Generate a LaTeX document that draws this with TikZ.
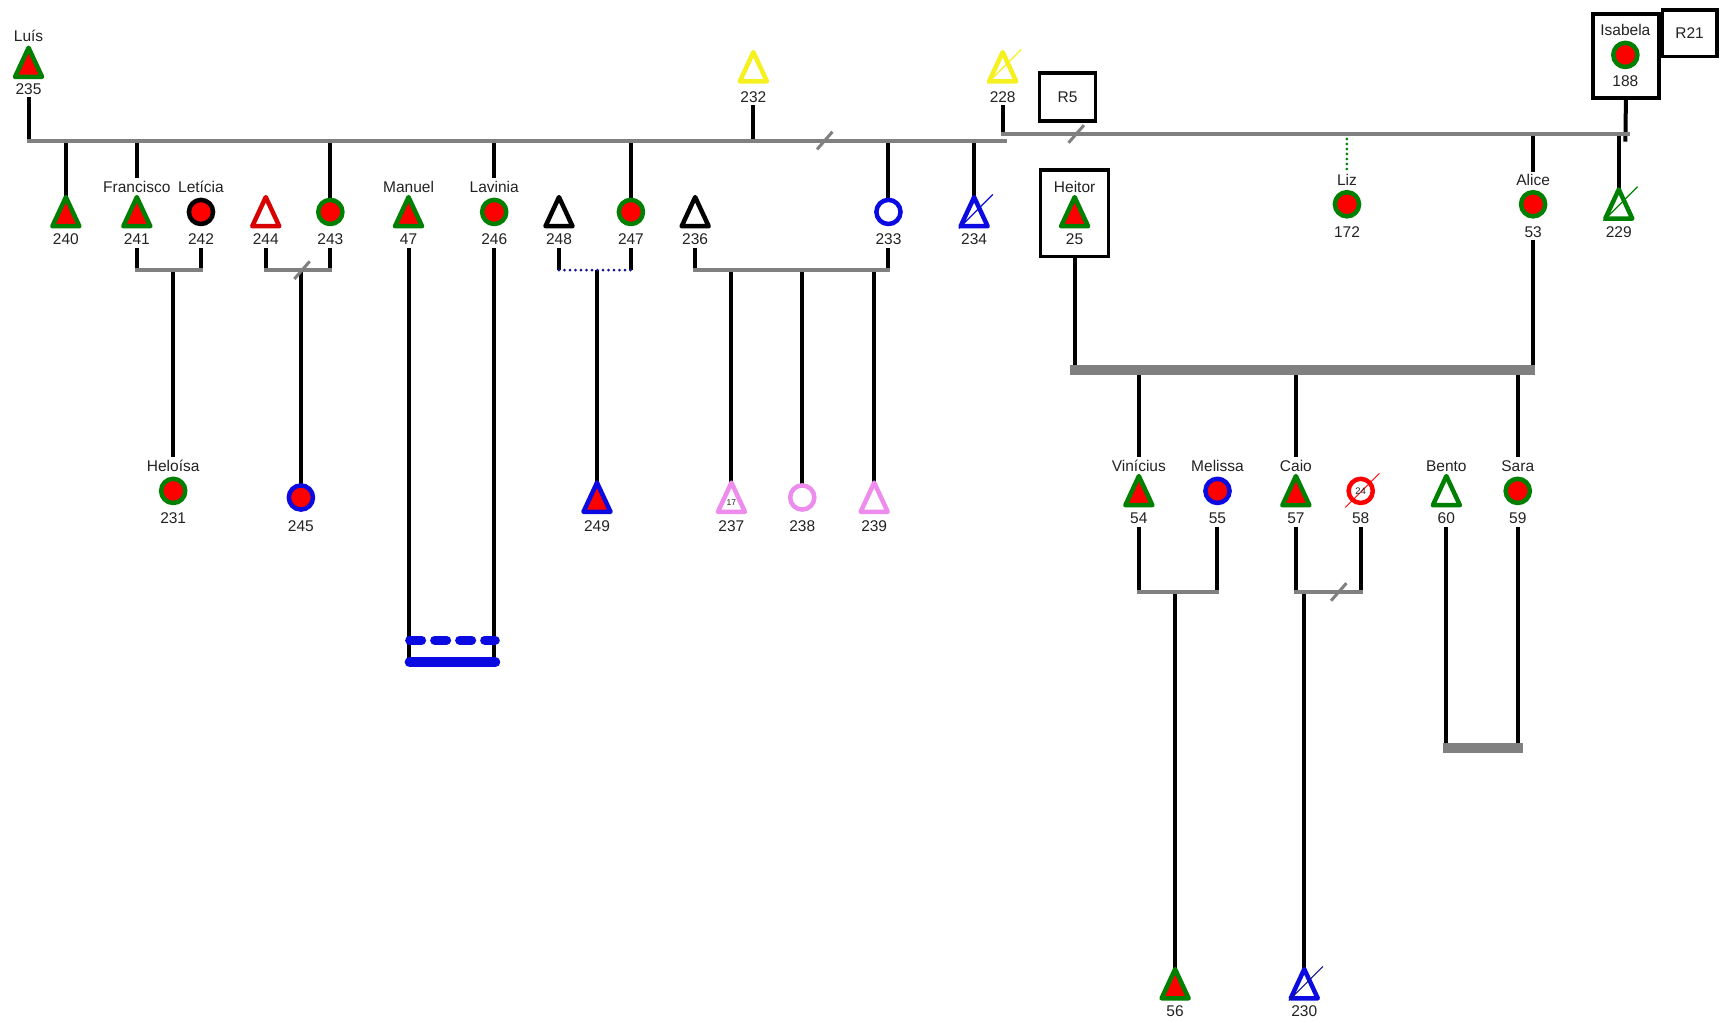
\documentclass[tikz,border=0pt]{standalone}
\usepackage{fontspec}
\setmainfont{Liberation Sans}
\usetikzlibrary{calc}
\definecolor{gcol}{RGB}{0,128,0}
\definecolor{rcol}{RGB}{255,0,0}
\definecolor{bcol}{RGB}{10,10,225}
\definecolor{ycol}{RGB}{245,240,30}
\definecolor{pcol}{RGB}{238,140,238}
\definecolor{lgray}{RGB}{128,128,128}
\definecolor{navy}{RGB}{20,20,140}
\definecolor{txt}{RGB}{35,35,35}
\begin{document}
\begin{tikzpicture}[x=1.0982pt, y=-1.0982pt,
  bk/.style={line width=4pt, draw=black},
  gl/.style={line width=4pt, draw=lgray, line cap=rect},
  thk/.style={line width=10pt, draw=lgray},
  lab/.style={font=\fontsize{15.5}{17}\selectfont, text=txt, inner sep=0pt, outer sep=3pt, text height=11pt, text depth=0pt},
  bx/.style={draw=black, line width=3.5pt, inner sep=0pt, font=\fontsize{15.5}{17}\selectfont, text=txt},
  symb/.style={line width=4.5pt, line join=round},
  tri/.pic={\path[pic actions] (0,-13.5) -- (12.3,13) -- (-12.3,13) -- cycle;},
  circ/.pic={\path[pic actions] (0,0) circle[radius=11];},
  dslash/.pic={\path[pic actions] (-14,15) -- (17,-16);},
  lslash/.pic={\path[draw=lgray, line width=3pt] (-7,8) -- (7,-8);},
]
\useasboundingbox (0,0) rectangle (1568,931);
\fill[white] (0,0) rectangle (1568,931);

% ---- boxes
\node[bx, minimum width=55.8pt, minimum height=48.1pt] (bxR5) at (972,88.5) {R5};
\node[bx, minimum width=54.7pt, minimum height=46.5pt] (bxR21) at (1538.5,30.3) {R21};
\node[bx, minimum width=65.7pt, minimum height=84.4pt] (bxIsa) at (1480.5,51) {};
\node[bx, minimum width=67.9pt, minimum height=86.5pt] (bxHei) at (978.5,194) {};

% ---- names
\node[lab] (nmLuis) at (26,33) {Luís};
\node[lab] (nmFra) at (124.6,170) {Francisco};
\node[lab] (nmLet) at (183,170) {Letícia};
\node[lab] (nmMan) at (372,170) {Manuel};
\node[lab] (nmLav) at (450,170) {Lavinia};
\node[lab] (nmHei) at (978.5,170) {Heitor};
\node[lab] (nmLiz) at (1226.5,164) {Liz};
\node[lab] (nmAli) at (1396,164) {Alice};
\node[lab] (nmIsa) at (1480,27) {Isabela};
\node[lab] (nmHel) at (157.7,424) {Heloísa};
\node[lab] (nmVin) at (1037,424) {Vinícius};
\node[lab] (nmMel) at (1108.6,424) {Melissa};
\node[lab] (nmCai) at (1180,424) {Caio};
\node[lab] (nmBen) at (1317,424) {Bento};
\node[lab] (nmSar) at (1382,424) {Sara};

% ---- numbers
\node[lab] (l235) at (26,81) {235};
\node[lab] (l232) at (686,88) {232};
\node[lab] (l228) at (913,88) {228};
\node[lab] (l188) at (1480,74) {188};
\node[lab] (l240) at (60,218) {240};
\node[lab] (l241) at (124.6,218) {241};
\node[lab] (l242) at (183,218) {242};
\node[lab] (l244) at (242,218) {244};
\node[lab] (l243) at (300.8,218) {243};
\node[lab] (l47) at (372,218) {47};
\node[lab] (l246) at (450,218) {246};
\node[lab] (l248) at (509,218) {248};
\node[lab] (l247) at (574.5,218) {247};
\node[lab] (l236) at (633,218) {236};
\node[lab] (l233) at (809,218) {233};
\node[lab] (l234) at (887,218) {234};
\node[lab] (l25) at (978.5,218) {25};
\node[lab] (l172) at (1226.5,211) {172};
\node[lab] (l53) at (1396,211) {53};
\node[lab] (l229) at (1474,211) {229};
\node[lab] (l231) at (157.7,472) {231};
\node[lab] (l245) at (274,479) {245};
\node[lab] (l249) at (543.6,479) {249};
\node[lab] (l237) at (666,479) {237};
\node[lab] (l238) at (730.5,479) {238};
\node[lab] (l239) at (796,479) {239};
\node[lab] (l54) at (1037,472) {54};
\node[lab] (l55) at (1108.6,472) {55};
\node[lab] (l57) at (1180,472) {57};
\node[lab] (l58) at (1239,472) {58};
\node[lab] (l60) at (1317,472) {60};
\node[lab] (l59) at (1382,472) {59};
\node[lab] (l56) at (1070,921) {56};
\node[lab] (l230) at (1187.6,921) {230};

% ---- symbol centres
\coordinate (s235) at (26,57);
\coordinate (s232) at (686,61);
\coordinate (s228) at (913,61);
\coordinate (s188) at (1480,50);
\coordinate (s240) at (60,193);
\coordinate (s241) at (124.6,193);
\coordinate (s242) at (183,193);
\coordinate (s244) at (242,193);
\coordinate (s243) at (300.8,193);
\coordinate (s47) at (372,193);
\coordinate (s246) at (450,193);
\coordinate (s248) at (509,193);
\coordinate (s247) at (574.5,193);
\coordinate (s236) at (633,193);
\coordinate (s233) at (809,193);
\coordinate (s234) at (887,193);
\coordinate (s25) at (978.5,193);
\coordinate (s172) at (1226.5,186);
\coordinate (s53) at (1396,186);
\coordinate (s229) at (1474,186);
\coordinate (s231) at (157.7,447);
\coordinate (s245) at (274,453);
\coordinate (s249) at (543.6,453);
\coordinate (s237) at (666,453);
\coordinate (s238) at (730.5,453);
\coordinate (s239) at (796,453);
\coordinate (s54) at (1037,447);
\coordinate (s55) at (1108.6,447);
\coordinate (s57) at (1180,447);
\coordinate (s58) at (1239,447);
\coordinate (s60) at (1317,447);
\coordinate (s59) at (1382,447);
\coordinate (s56) at (1070,896);
\coordinate (s230) at (1187.6,896);

% ---- line end points
\coordinate (mA) at (26,128);
\coordinate (mB) at (915,128);
\coordinate (nA) at (913,122);
\coordinate (nB) at (1482,122);
\coordinate (iB) at (1480,129);
\coordinate (cp1a) at (124.6,246);
\coordinate (cp1b) at (183,246);
\coordinate (k231) at (157.7,246);
\coordinate (cp2a) at (242,246);
\coordinate (cp2b) at (300.8,246);
\coordinate (k245) at (274,246);
\coordinate (cp3a) at (372,603);
\coordinate (cp3b) at (450,603);
\coordinate (cp4a) at (509,246);
\coordinate (cp4b) at (574.5,246);
\coordinate (k249) at (543.6,246);
\coordinate (cp5a) at (633,246);
\coordinate (cp5b) at (809,246);
\coordinate (ha1) at (978.5,337);
\coordinate (ha2) at (1396,337);
\coordinate (thA) at (974,337);
\coordinate (thB) at (1398,337);
\coordinate (cp6a) at (1037,539);
\coordinate (cp6b) at (1108.6,539);
\coordinate (k56) at (1070,539);
\coordinate (cp7a) at (1180,539);
\coordinate (cp7b) at (1239,539);
\coordinate (k230) at (1187.6,539);
\coordinate (cp8a) at (1317,681.5);
\coordinate (cp8b) at (1382,681.5);

% ---- connectors
\draw[bk] (l235.south) -- (mA);
\draw[bk] (l232.south) -- (l232.south |- mA);
\draw[bk] (mA -| s240) -- (s240);
\draw[bk] (mA -| s241) -- (nmFra.north);
\draw[bk] (mA -| s243) -- (s243);
\draw[bk] (mA -| s246) -- (nmLav.north);
\draw[bk] (mA -| s247) -- (s247);
\draw[bk] (mA -| s233) -- (s233);
\draw[bk] (mA -| s234) -- (s234);
\draw[gl] (mA) -- (mB);
\pic at (751,128) {lslash};

\draw[bk] (l228.south) -- (nA);
\draw[bk] (bxIsa.south) -- (iB);
\draw[line width=3pt, draw=gcol, line cap=round, dash pattern=on 0pt off 5pt] (nA -| s172) -- (nmLiz.north);
\draw[bk] (nA -| s53) -- (nmAli.north);
\draw[bk] (nA -| s229) -- (s229);
\draw[gl] (nA) -- (nB);
\pic at (980,122) {lslash};

\draw[bk] (l241.south) -- (cp1a);
\draw[bk] (l242.south) -- (cp1b);
\draw[bk] (k231) -- (nmHel.north);
\draw[gl] (cp1a) -- (cp1b);

\draw[bk] (l244.south) -- (cp2a);
\draw[bk] (l243.south) -- (cp2b);
\draw[bk] (k245) -- (s245);
\draw[gl] (cp2a) -- (cp2b);
\pic at (275,246) {lslash};

\draw[bk] (l47.south) -- (cp3a);
\draw[bk] (l246.south) -- (cp3b);
\draw[draw=bcol, line width=9pt, line cap=round, dash pattern=on 12pt off 13pt] (373,583) -- (451,583);
\draw[draw=bcol, line width=10pt, line cap=round] ($(cp3a)+(1,0)$) -- ($(cp3b)+(1,0)$);

\draw[bk] (l248.south) -- (cp4a);
\draw[bk] (l247.south) -- (cp4b);
\draw[bk] (k249) -- (s249);
\draw[draw=navy, line width=3pt, line cap=round, dash pattern=on 0pt off 5.5pt] (cp4a) -- (cp4b);

\draw[bk] (l236.south) -- (cp5a);
\draw[bk] (l233.south) -- (cp5b);
\draw[bk] (cp5a -| s237) -- (s237);
\draw[bk] (cp5a -| s238) -- (s238);
\draw[bk] (cp5a -| s239) -- (s239);
\draw[gl] (cp5a) -- (cp5b);

\draw[bk] (bxHei.south) -- (ha1);
\draw[bk] (l53.south) -- (ha2);
\draw[bk] (thA -| s54) -- (nmVin.north);
\draw[bk] (thA -| s57) -- (nmCai.north);
\draw[bk] (thA -| s59) -- (nmSar.north);
\draw[thk] (thA) -- (thB);

\draw[bk] (l54.south) -- (cp6a);
\draw[bk] (l55.south) -- (cp6b);
\draw[bk] (k56) -- (s56);
\draw[gl] (cp6a) -- (cp6b);

\draw[bk] (l57.south) -- (cp7a);
\draw[bk] (l58.south) -- (cp7b);
\draw[bk] (k230) -- (s230);
\draw[gl] (cp7a) -- (cp7b);
\pic at (1219,539) {lslash};

\draw[bk] (l60.south) -- (cp8a);
\draw[bk] (l59.south) -- (cp8b);
\draw[thk] (1314,681.5) -- (1387,681.5);

% ---- symbols
\pic[symb, draw=gcol, fill=rcol] at (s235) {tri};
\pic[symb, draw=ycol, fill=white] at (s232) {tri};
\pic[symb, draw=ycol, fill=white] at (s228) {tri};
\pic[draw=ycol, line width=1.2pt] at (s228) {dslash};
\pic[symb, draw=gcol, fill=rcol] at (s188) {circ};
\pic[symb, draw=gcol, fill=rcol] at (s240) {tri};
\pic[symb, draw=gcol, fill=rcol] at (s241) {tri};
\pic[symb, draw=black, fill=rcol] at (s242) {circ};
\pic[symb, draw=rcol!85!black, fill=white] at (s244) {tri};
\pic[symb, draw=gcol, fill=rcol] at (s243) {circ};
\pic[symb, draw=gcol, fill=rcol] at (s47) {tri};
\pic[symb, draw=gcol, fill=rcol] at (s246) {circ};
\pic[symb, draw=black, fill=white] at (s248) {tri};
\pic[symb, draw=gcol, fill=rcol] at (s247) {circ};
\pic[symb, draw=black, fill=white] at (s236) {tri};
\pic[symb, draw=bcol, fill=white] at (s233) {circ};
\pic[symb, draw=bcol, fill=white] at (s234) {tri};
\pic[draw=bcol, line width=1.2pt] at (s234) {dslash};
\pic[symb, draw=gcol, fill=rcol] at (s25) {tri};
\pic[symb, draw=gcol, fill=rcol] at (s172) {circ};
\pic[symb, draw=gcol, fill=rcol] at (s53) {circ};
\pic[symb, draw=gcol, fill=white] at (s229) {tri};
\pic[draw=gcol, line width=1.2pt] at (s229) {dslash};
\pic[symb, draw=gcol, fill=rcol] at (s231) {circ};
\pic[symb, draw=bcol, fill=rcol] at (s245) {circ};
\pic[symb, draw=bcol, fill=rcol] at (s249) {tri};
\pic[symb, draw=pcol, fill=white] at (s237) {tri};
\pic[symb, draw=pcol, fill=white] at (s238) {circ};
\pic[symb, draw=pcol, fill=white] at (s239) {tri};
\pic[symb, draw=gcol, fill=rcol] at (s54) {tri};
\pic[symb, draw=bcol, fill=rcol] at (s55) {circ};
\pic[symb, draw=gcol, fill=rcol] at (s57) {tri};
\pic[symb, draw=rcol, fill=white] at (s58) {circ};
\pic[draw=rcol, line width=1pt] at (s58) {dslash};
\pic[symb, draw=gcol, fill=white] at (s60) {tri};
\pic[symb, draw=gcol, fill=rcol] at (s59) {circ};
\pic[symb, draw=gcol, fill=rcol] at (s56) {tri};
\pic[symb, draw=bcol, fill=white] at (s230) {tri};
\pic[draw=navy, line width=1.2pt] at (s230) {dslash};

% ---- small texts in symbols
\node[font=\fontsize{8.5}{9}\selectfont, text=txt, inner sep=0pt] (t17) at (666,458) {17};
\node[font=\fontsize{9.5}{10}\selectfont, text=txt, inner sep=0pt] (t24) at (1239,447) {24};
\end{tikzpicture}
\end{document}
